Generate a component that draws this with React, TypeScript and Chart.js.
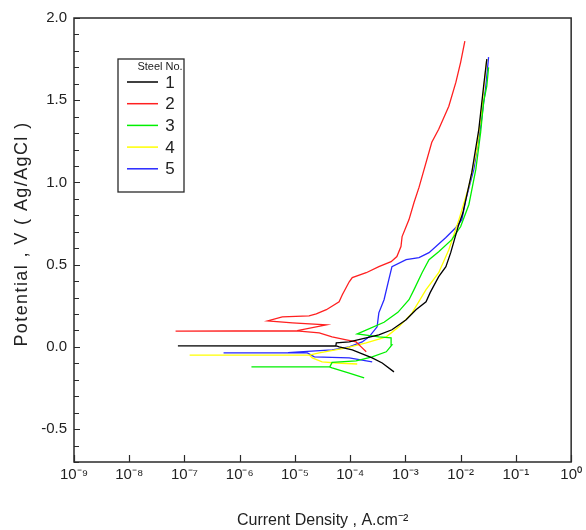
import React, { useEffect, useRef } from 'react';
import { Chart, registerables } from 'chart.js';

Chart.register(...registerables);

// ---- Data (current density A/cm², potential V vs Ag/AgCl) ----
const steel1Current = [6.2e-4, 3.8e-4, 2.5e-4, 1.09e-4, 6.3e-5, 5.8e-5, 7.6e-8, 5.5e-5, 5.6e-5, 9.6e-5, 1.95e-4, 3.3e-4, 5.7e-4, 1.03e-3, 1.55e-3, 2.36e-3, 2.8e-3, 4.0e-3, 5.4e-3, 6.6e-3, 9.0e-3, 1.1e-2, 1.59e-2, 2.13e-2, 2.6e-2, 2.97e-2];
const steel1Potential = [-0.152, -0.098, -0.067, -0.018, 0.0, 0.005, 0.006, 0.007, 0.024, 0.03, 0.055, 0.073, 0.104, 0.165, 0.226, 0.274, 0.33, 0.427, 0.488, 0.573, 0.732, 0.817, 1.061, 1.323, 1.585, 1.75];

const steel2Current = [1.95e-4, 1.58e-4, 1.28e-4, 8.5e-5, 4.7e-5, 2.75e-5, 1.2e-5, 6.9e-8, 1.1e-5, 3.7e-5, 9.0e-6, 3.2e-6, 5.9e-6, 1.8e-5, 2.43e-5, 3.7e-5, 6.3e-5, 7.2e-5, 9.6e-5, 1.09e-4, 1.95e-4, 3.3e-4, 5.5e-4, 7.0e-4, 8.3e-4, 8.7e-4, 1.16e-3, 1.43e-3, 1.76e-3, 3.0e-3, 4.0e-3, 6.1e-3, 8.2e-3, 1.0e-2, 1.19e-2];
const steel2Potential = [-0.03, 0.0, 0.03, 0.043, 0.061, 0.085, 0.096, 0.096, 0.099, 0.134, 0.146, 0.158, 0.183, 0.189, 0.201, 0.226, 0.274, 0.317, 0.396, 0.421, 0.451, 0.488, 0.518, 0.549, 0.61, 0.671, 0.774, 0.878, 0.97, 1.244, 1.323, 1.463, 1.61, 1.732, 1.86];

const steel3Current = [1.79e-4, 9.6e-5, 4.7e-5, 4.2e-5, 1.63e-6, 4.3e-5, 4.7e-5, 1.28e-4, 2.5e-4, 4.5e-4, 5.7e-4, 5.5e-4, 3.3e-4, 1.34e-4, 1.8e-4, 4.1e-4, 7.3e-4, 1.16e-3, 1.43e-3, 2.0e-3, 2.67e-3, 4.0e-3, 6.9e-3, 1.0e-2, 1.41e-2, 1.88e-2, 2.3e-2, 2.6e-2, 2.97e-2, 3.2e-2];
const steel3Potential = [-0.189, -0.159, -0.128, -0.122, -0.122, -0.12, -0.094, -0.085, -0.061, -0.03, 0.012, 0.055, 0.061, 0.079, 0.097, 0.15, 0.21, 0.287, 0.348, 0.451, 0.53, 0.579, 0.652, 0.732, 0.866, 1.079, 1.305, 1.488, 1.585, 1.7];

const steel4Current = [1.34e-4, 5.6e-5, 3.1e-5, 2.06e-5, 1.82e-5, 1.24e-7, 1.9e-5, 2.75e-5, 8.5e-5, 1.95e-4, 4.5e-4, 7.6e-4, 1.32e-3, 2.36e-3, 4.0e-3, 6.1e-3, 9.3e-3, 1.41e-2, 1.96e-2, 2.4e-2, 2.97e-2];
const steel4Potential = [-0.104, -0.098, -0.091, -0.067, -0.05, -0.05, -0.048, -0.037, -0.006, 0.024, 0.061, 0.122, 0.207, 0.348, 0.451, 0.591, 0.774, 0.976, 1.201, 1.445, 1.75];

const steel5Current = [2.5e-4, 9.6e-5, 2.24e-5, 1.68e-5, 7.0e-6, 5.1e-7, 7.5e-6, 1.2e-5, 4.7e-5, 9.6e-5, 1.65e-4, 2.2e-4, 3.07e-4, 3.3e-4, 4.1e-4, 5.0e-4, 5.7e-4, 1.03e-3, 1.76e-3, 2.67e-3, 5.4e-3, 8.2e-3, 1.05e-2, 1.24e-2, 1.73e-2, 2.3e-2, 2.85e-2, 3.2e-2];
const steel5Potential = [-0.091, -0.067, -0.061, -0.037, -0.037, -0.037, -0.035, -0.03, -0.018, 0.0, 0.03, 0.061, 0.122, 0.207, 0.287, 0.409, 0.488, 0.53, 0.543, 0.573, 0.665, 0.726, 0.774, 0.896, 1.079, 1.341, 1.585, 1.762];

const steelLabels = ['1', '2', '3', '4', '5'];
const legendTitle = 'Steel No.';
const xTickValues = [1e-9, 1e-8, 1e-7, 1e-6, 1e-5, 1e-4, 1e-3, 1e-2, 1e-1, 1];
const xTickLabels = ['10⁻⁹', '10⁻⁸', '10⁻⁷', '10⁻⁶', '10⁻⁵', '10⁻⁴', '10⁻³', '10⁻²', '10⁻¹', '10⁰'];
const yMajorValues = [-0.5, 0, 0.5, 1, 1.5, 2];
const yTickLabels = ['-0.5', '0.0', '0.5', '1.0', '1.5', '2.0'];
const xTitle = 'Current Density , A.cm⁻²';
const yTitle = 'Potential , V ( Ag/AgCl )';

const seriesCurrent = [steel1Current, steel2Current, steel3Current, steel4Current, steel5Current];
const seriesPotential = [steel1Potential, steel2Potential, steel3Potential, steel4Potential, steel5Potential];

// styles
const lineColors = ['#000000', '#ff2020', '#00f000', '#ffff00', '#2828ff'];
const narrow = '"Liberation Sans Narrow", "Liberation Sans", Arial, sans-serif';
const regular = '"Liberation Sans", Arial, sans-serif';

const framePlugin = {
  id: 'frameTicksLegend',
  afterDatasetsDraw(chart: any) {
    const { ctx, chartArea: a, scales } = chart;
    ctx.save();
    ctx.strokeStyle = '#2a2a2a';
    ctx.lineWidth = 1.5;
    ctx.strokeRect(a.left, a.top, a.right - a.left, a.bottom - a.top);
    ctx.lineWidth = 1.2;
    ctx.beginPath();
    scales.y.ticks.forEach((t: any) => {
      const p = Math.round(scales.y.getPixelForValue(t.value)) + 0.5;
      const major = yMajorValues.some((m) => Math.abs(m - t.value) < 1e-6);
      ctx.moveTo(a.left, p);
      ctx.lineTo(a.left + (major ? 6 : 5), p);
    });
    scales.x.ticks.forEach((t: any) => {
      const p = Math.round(scales.x.getPixelForValue(t.value)) + 0.5;
      ctx.moveTo(p, a.bottom);
      ctx.lineTo(p, a.bottom - 7);
    });
    ctx.stroke();

    // y axis title
    ctx.save();
    ctx.translate(22, (a.top + a.bottom) / 2 - 6);
    ctx.rotate(-Math.PI / 2);
    ctx.fillStyle = '#222';
    ctx.font = `18px ${regular}`;
    (ctx as any).letterSpacing = '1.4px';
    ctx.textAlign = 'center';
    ctx.textBaseline = 'middle';
    ctx.fillText(yTitle, 0, 0);
    ctx.restore();

    // legend box
    const bx = a.left + 44;
    const by = a.top + 41;
    const bw = 66;
    const bh = 133;
    ctx.fillStyle = '#ffffff';
    ctx.fillRect(bx, by, bw, bh);
    ctx.strokeStyle = '#2a2a2a';
    ctx.lineWidth = 1.3;
    ctx.strokeRect(bx, by, bw, bh);
    ctx.fillStyle = '#222';
    ctx.font = `11px ${narrow}`;
    ctx.textAlign = 'center';
    ctx.textBaseline = 'middle';
    ctx.fillText(legendTitle, bx + 42, by + 8);
    chart.data.datasets.forEach((ds: any, i: number) => {
      const y = by + 23 + i * 21.7;
      ctx.strokeStyle = ds.borderColor;
      ctx.lineWidth = 1.5;
      ctx.beginPath();
      ctx.moveTo(bx + 9, y);
      ctx.lineTo(bx + 40, y);
      ctx.stroke();
      ctx.fillStyle = '#222';
      ctx.font = `17px ${narrow}`;
      ctx.fillText(ds.label, bx + 52, y + 1);
    });
    ctx.restore();
  },
};

export default function App() {
  const ref = useRef<HTMLCanvasElement>(null);
  useEffect(() => {
    document.body.style.margin = '0';
    const datasets = seriesCurrent.map((cur, i) => ({
      label: steelLabels[i],
      data: cur.map((c, j) => ({ x: c, y: seriesPotential[i][j] })),
      borderColor: lineColors[i],
      backgroundColor: lineColors[i],
      borderWidth: 1.3,
      showLine: true,
      pointRadius: 0,
      tension: 0,
      fill: false,
    }));
    const chart = new Chart(ref.current!, {
      type: 'scatter',
      data: { datasets },
      options: {
        responsive: false,
        animation: false,
        devicePixelRatio: 1,
        layout: { padding: { left: 0, top: 18, right: 13, bottom: 0 } },
        plugins: { legend: { display: false }, tooltip: { enabled: false } },
        scales: {
          x: {
            type: 'logarithmic',
            min: 1e-9,
            max: 1,
            grid: { display: false, drawTicks: false },
            border: { display: false },
            afterBuildTicks: (scale: any) => {
              scale.ticks = xTickValues.map((v) => ({ value: v, major: true }));
            },
            afterFit: (scale: any) => {
              scale.height = 68;
            },
            ticks: {
              autoSkip: false,
              maxRotation: 0,
              minRotation: 0,
              padding: 4,
              color: '#222',
              font: { family: narrow, size: 15 },
              callback: (v: any) => {
                const idx = xTickValues.findIndex((t) => Math.abs(Math.log10(t) - Math.log10(v)) < 1e-6);
                return idx >= 0 ? xTickLabels[idx] : '';
              },
            },
            title: {
              display: true,
              text: xTitle,
              color: '#222',
              font: { family: regular, size: 16 },
              padding: { top: 0, bottom: 0 },
            },
          },
          y: {
            type: 'linear',
            min: -0.7,
            max: 2.0,
            grid: { display: false, drawTicks: false },
            border: { display: false },
            afterFit: (scale: any) => {
              scale.width = 74;
            },
            ticks: {
              stepSize: 0.1,
              autoSkip: false,
              padding: 7,
              color: '#222',
              font: { family: narrow, size: 15 },
              callback: (v: any) => {
                const idx = yMajorValues.findIndex((m) => Math.abs(m - v) < 1e-6);
                return idx >= 0 ? yTickLabels[idx] : '';
              },
            },
            title: { display: false, text: yTitle },
          },
        },
      },
      plugins: [framePlugin],
    } as any);
    return () => chart.destroy();
  }, []);
  return (
    <div style={{ width: 586, height: 530 }}>
      <canvas ref={ref} width={586} height={530} style={{ display: 'block' }} />
    </div>
  );
}
